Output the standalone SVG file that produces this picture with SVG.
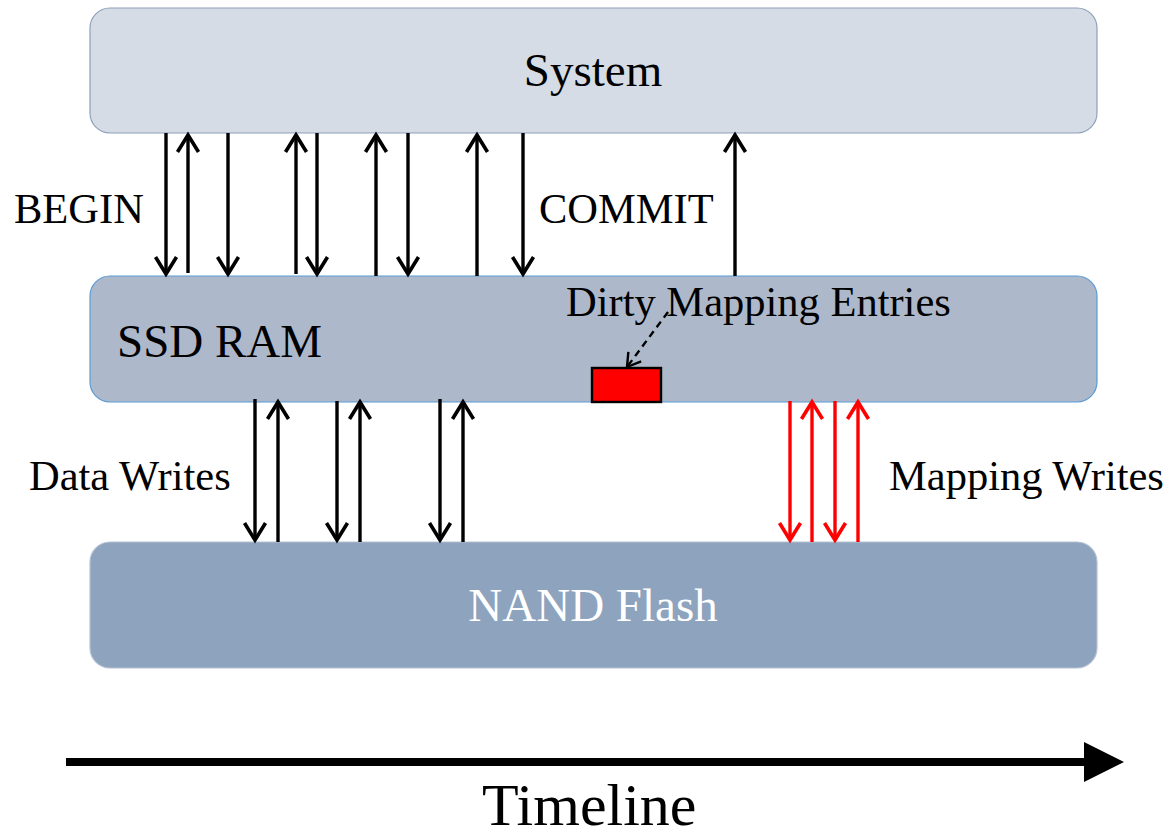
<svg xmlns="http://www.w3.org/2000/svg" width="1170" height="837" viewBox="0 0 1170 837">
  <defs>
    <marker id="head-black" markerUnits="userSpaceOnUse" viewBox="-20 -14 24 28" refX="0" refY="0" markerWidth="24" markerHeight="28" orient="auto" overflow="visible">
      <path d="M-17,-10.5 L0,0 L-17,10.5" fill="none" stroke="#000" stroke-width="3.6"/>
    </marker>
    <marker id="head-red" markerUnits="userSpaceOnUse" viewBox="-20 -14 24 28" refX="0" refY="0" markerWidth="24" markerHeight="28" orient="auto" overflow="visible">
      <path d="M-17,-10.5 L0,0 L-17,10.5" fill="none" stroke="#FF0000" stroke-width="3.6"/>
    </marker>
    <marker id="head-small" markerUnits="userSpaceOnUse" viewBox="-16 -12 20 24" refX="0" refY="0" markerWidth="20" markerHeight="24" orient="auto" overflow="visible">
      <path d="M-13,-8 L0,0 L-13,8" fill="none" stroke="#000" stroke-width="2.4"/>
    </marker>
  </defs>
  <style>
    text { font-family: "Liberation Serif", "Times New Roman", serif; }
    .label { font-size: 42.5px; fill: #000; }
    .title { font-size: 47px; }
    .msg { stroke: #000; stroke-width: 3.4; fill: none; marker-end: url(#head-black); }
    .map { stroke: #FF0000; stroke-width: 3.4; fill: none; marker-end: url(#head-red); }
  </style>
  <rect width="1170" height="837" fill="#FFFFFF"/>

  <g id="system">
    <rect x="90" y="8" width="1007" height="125" rx="20" fill="#D6DCE5" stroke="#8EA0BA" stroke-width="1.2"/>
    <text class="title" x="593" y="86" text-anchor="middle" fill="#000">System</text>
  </g>

  <g id="ssd-ram">
    <rect x="90" y="276" width="1007" height="126" rx="20" fill="#ADB9CA" stroke="#5B9BD5" stroke-width="1.2"/>
    <text class="title" x="117" y="357" fill="#000">SSD RAM</text>
  </g>

  <g id="dirty-entries">
    <rect x="592" y="368" width="69" height="34" fill="#FF0000" stroke="#000" stroke-width="2.4"/>
    <text class="label" x="566" y="316">Dirty Mapping Entries</text>
  </g>

  <g id="nand-flash">
    <rect x="90" y="542" width="1007" height="126" rx="20" fill="#8EA3BD" stroke="#B4C2D4" stroke-width="1.2"/>
    <text class="title" x="593" y="621" text-anchor="middle" fill="#FFFFFF">NAND Flash</text>
  </g>

  <g id="labels">
    <text class="label" x="14" y="223">BEGIN</text>
    <text class="label" x="539" y="223">COMMIT</text>
    <text class="label" x="29" y="490">Data Writes</text>
    <text class="label" x="889" y="490">Mapping Writes</text>
    <text x="482" y="825" font-size="60" fill="#000">Timeline</text>
  </g>

  <g id="connectors">
    <!-- system <-> SSD RAM transaction messages -->
    <line class="msg" x1="166" y1="133" x2="166" y2="274"/>
    <line class="msg" x1="188" y1="273" x2="188" y2="135"/>
    <line class="msg" x1="228" y1="133" x2="228" y2="274"/>
    <line class="msg" x1="296" y1="274" x2="296" y2="135"/>
    <line class="msg" x1="317" y1="133" x2="317" y2="274"/>
    <line class="msg" x1="376" y1="276" x2="376" y2="135"/>
    <line class="msg" x1="408" y1="133" x2="408" y2="274"/>
    <line class="msg" x1="477" y1="276" x2="477" y2="135"/>
    <line class="msg" x1="523" y1="133" x2="523" y2="274"/>
    <line class="msg" x1="735" y1="276" x2="735" y2="135"/>

    <!-- SSD RAM <-> NAND data writes -->
    <line class="msg" x1="255" y1="399" x2="255" y2="540"/>
    <line class="msg" x1="278" y1="542" x2="278" y2="402"/>
    <line class="msg" x1="337" y1="401" x2="337" y2="540"/>
    <line class="msg" x1="360" y1="542" x2="360" y2="402"/>
    <line class="msg" x1="440" y1="399" x2="440" y2="540"/>
    <line class="msg" x1="463" y1="542" x2="463" y2="402"/>

    <!-- SSD RAM <-> NAND mapping writes -->
    <line class="map" x1="790" y1="401" x2="790" y2="540"/>
    <line class="map" x1="812" y1="542" x2="812" y2="402"/>
    <line class="map" x1="835" y1="401" x2="835" y2="540"/>
    <line class="map" x1="858" y1="542" x2="858" y2="402"/>

    <!-- pointer to dirty entries -->
    <line x1="668" y1="312" x2="627" y2="367" stroke="#000" stroke-width="2.4" stroke-dasharray="7 5" marker-end="url(#head-small)"/>

    <!-- timeline axis -->
    <line x1="66" y1="762" x2="1086" y2="762" stroke="#000" stroke-width="8"/>
    <polygon points="1084,742 1124,762 1084,782" fill="#000"/>
  </g>
</svg>
